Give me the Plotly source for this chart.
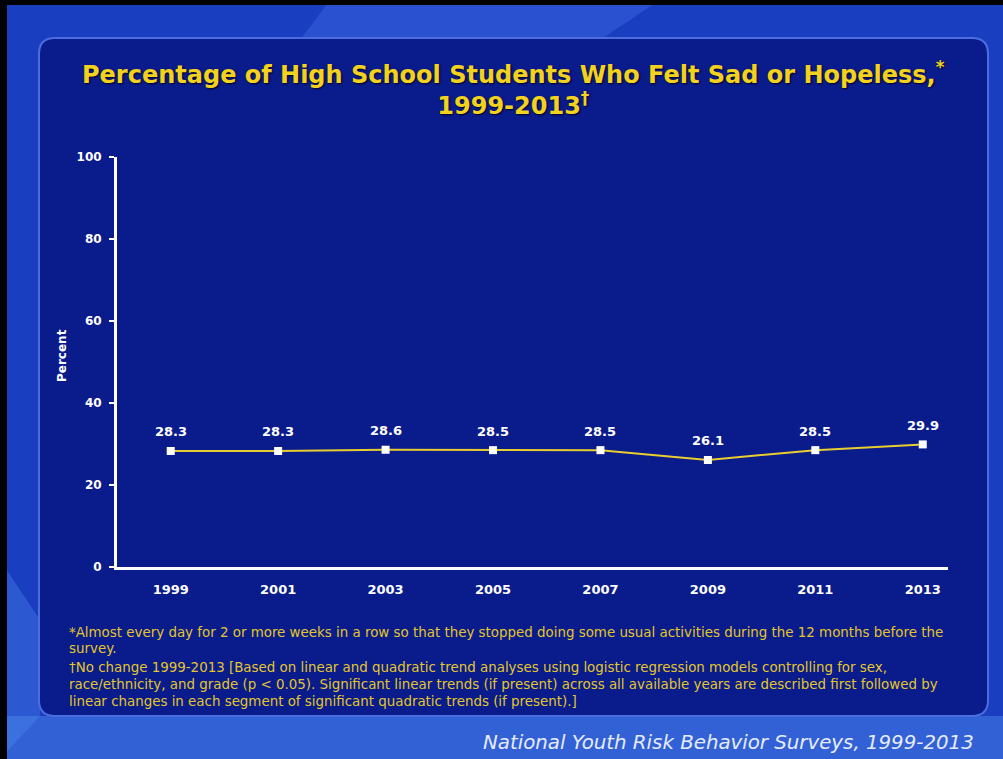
import plotly.graph_objects as go

years = [1999, 2001, 2003, 2005, 2007, 2009, 2011, 2013]
percent = [28.3, 28.3, 28.6, 28.5, 28.5, 26.1, 28.5, 29.9]
value_labels = ["28.3", "28.3", "28.6", "28.5", "28.5", "26.1", "28.5", "29.9"]
y_ticks = [0, 20, 40, 60, 80, 100]

title_text = ("Percentage of High School Students Who Felt Sad or Hopeless,<sup>*</sup><br>"
              "1999-2013<sup>\u2020</sup>")
footnotes = [
    "*Almost every day for 2 or more weeks in a row so that they stopped doing some usual activities during the 12 months before the",
    "survey.",
    "\u2020No change 1999-2013 [Based on linear and quadratic trend analyses using logistic regression models controlling for sex,",
    "race/ethnicity, and grade (p < 0.05). Significant linear trends (if present) across all available years are described first followed by",
    "linear changes in each segment of significant quadratic trends (if present).]",
]
source_text = "National Youth Risk Behavior Surveys, 1999-2013"

W, H = 1003, 759
L, R, T, B = 117, 948, 157, 567
FONT = "DejaVu Sans, Arial, sans-serif"

def px(x):
    return (x - L) / (R - L)

def py(y):
    return (B - y) / (B - T)

fig = go.Figure()
fig.add_trace(go.Scatter(
    x=years, y=percent, mode="lines+markers",
    line=dict(color="#e8cc30", width=2),
    marker=dict(symbol="square", size=8, color="white"),
    cliponaxis=False, hoverinfo="skip",
))

shapes = []
# background highlights
shapes.append(dict(type="path", xref="paper", yref="paper", layer="below",
                   path=f"M {px(330)},{py(0)} L {px(660)},{py(0)} L {px(600)},{py(40)} L {px(300)},{py(40)} Z",
                   fillcolor="rgba(90,140,255,0.25)", line=dict(width=0)))
shapes.append(dict(type="path", xref="paper", yref="paper", layer="below",
                   path=f"M {px(0)},{py(716)} L {px(1003)},{py(716)} L {px(1003)},{py(759)} L {px(0)},{py(759)} Z",
                   fillcolor="rgba(80,140,240,0.45)", line=dict(width=0)))
shapes.append(dict(type="path", xref="paper", yref="paper", layer="below",
                   path=f"M {px(0)},{py(560)} L {px(40)},{py(620)} L {px(40)},{py(716)} L {px(0)},{py(759)} Z",
                   fillcolor="rgba(80,140,240,0.35)", line=dict(width=0)))
# inner rounded panel
x0, x1, y0, y1, r = 39, 988, 38, 716, 16
path = (f"M {px(x0+r)},{py(y0)} L {px(x1-r)},{py(y0)} Q {px(x1)},{py(y0)} {px(x1)},{py(y0+r)} "
        f"L {px(x1)},{py(y1-r)} Q {px(x1)},{py(y1)} {px(x1-r)},{py(y1)} "
        f"L {px(x0+r)},{py(y1)} Q {px(x0)},{py(y1)} {px(x0)},{py(y1-r)} "
        f"L {px(x0)},{py(y0+r)} Q {px(x0)},{py(y0)} {px(x0+r)},{py(y0)} Z")
shapes.append(dict(type="path", xref="paper", yref="paper", layer="below", path=path,
                   fillcolor="#0a1c8c", line=dict(color="#4a6ee0", width=2)))
# black border top & left
shapes.append(dict(type="rect", xref="paper", yref="paper", layer="above",
                   x0=px(0), x1=px(1003), y0=py(0), y1=py(5), fillcolor="black", line=dict(width=0)))
shapes.append(dict(type="rect", xref="paper", yref="paper", layer="above",
                   x0=px(0), x1=px(7), y0=py(0), y1=py(759), fillcolor="black", line=dict(width=0)))

annotations = []
for xv, yv, lab in zip(years, percent, value_labels):
    annotations.append(dict(x=xv, y=yv, xref="x", yref="y", text=lab, showarrow=False,
                            yshift=19, xanchor="center", yanchor="middle",
                            font=dict(family=FONT, size=13, color="white", weight="bold")))
annotations.append(dict(text=title_text, xref="paper", yref="paper", x=px(513), y=py(88),
                        xanchor="center", yanchor="middle", showarrow=False,
                        font=dict(family=FONT, size=24, color="#f2d21e", weight="bold",
                                  shadow="1px 1px 2px #000020")))
annotations.append(dict(text="Percent", xref="paper", yref="paper", x=px(62), y=py(356),
                        xanchor="center", yanchor="middle", textangle=-90, showarrow=False,
                        font=dict(family=FONT, size=12, color="white", weight="bold")))
foot_y = [632, 648, 667, 684, 701]
for t, yy in zip(footnotes, foot_y):
    annotations.append(dict(text=t, xref="paper", yref="paper", x=px(67), y=py(yy),
                            xanchor="left", yanchor="middle", showarrow=False,
                            font=dict(family=FONT, size=13.4, color="#e2c62a")))
annotations.append(dict(text=f"<i>{source_text}</i>", xref="paper", yref="paper", x=px(976), y=py(742),
                        xanchor="right", yanchor="middle", showarrow=False,
                        font=dict(family=FONT, size=19.8, color="#e6ecff")))

fig.update_layout(
    width=W, height=H,
    margin=dict(l=L, r=W - R, t=T, b=H - B, pad=0),
    paper_bgcolor="#1a3ec0", plot_bgcolor="rgba(0,0,0,0)",
    showlegend=False, shapes=shapes, annotations=annotations,
    xaxis=dict(range=[1998, 2013.47], tickvals=years, ticktext=[str(y) for y in years],
               showgrid=False, zeroline=False, showline=True, linecolor="white", linewidth=3,
               ticks="", ticklabelstandoff=8,
               tickfont=dict(family=FONT, size=13, color="white", weight="bold"),
               fixedrange=True),
    yaxis=dict(range=[0, 100], tickvals=y_ticks, showgrid=False, zeroline=False,
               showline=True, linecolor="white", linewidth=3, ticks="outside", ticklen=5,
               tickcolor="white", tickwidth=2, ticklabelstandoff=5,
               tickfont=dict(family=FONT, size=12, color="white", weight="bold"),
               fixedrange=True),
)
fig.write_html("out.html", config={"displayModeBar": False},
               post_script="document.body.style.margin='0';document.body.style.padding='0';")
